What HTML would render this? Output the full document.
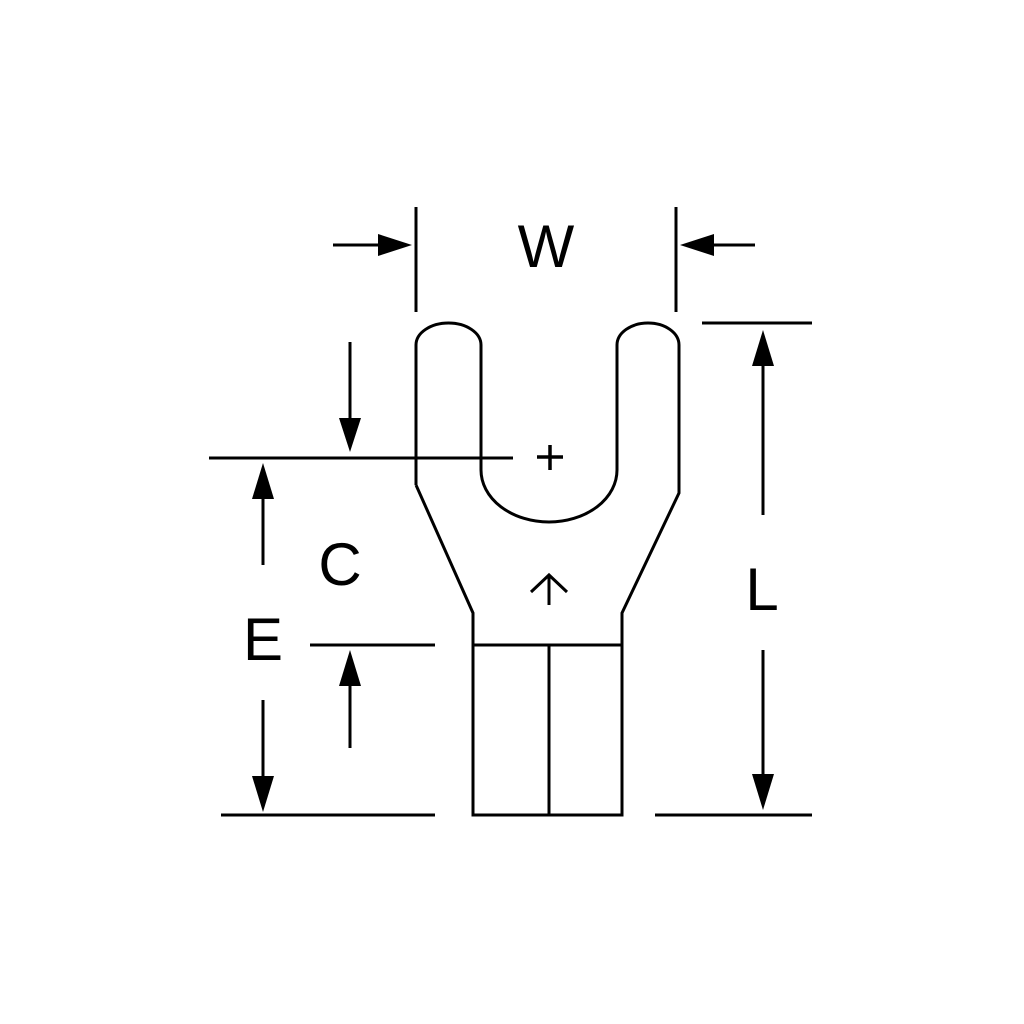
<!DOCTYPE html>
<html><head><style>html,body{margin:0;padding:0;background:#fff}svg{display:block}</style></head>
<body>
<svg width="1024" height="1024" viewBox="0 0 1024 1024" xmlns="http://www.w3.org/2000/svg">
<rect width="1024" height="1024" fill="#fff"/>
<g fill="none" stroke="#000" stroke-width="3">
<path d="M416,485 L416,345 A32.5,22 0 0 1 481,345 L481,470 A68,52 0 0 0 617,470 L617,345 A31,22 0 0 1 679,345 L679,493 L622,613 L622,815 L473,815 L473,613 L416,485"/>
<line x1="473" y1="645" x2="622" y2="645"/>
<line x1="549" y1="645" x2="549" y2="815"/>
<line x1="209" y1="458" x2="513" y2="458"/>
<line x1="537" y1="457" x2="563" y2="457" stroke-width="3.5"/><line x1="550" y1="445" x2="550" y2="470" stroke-width="3.5"/>
<line x1="549" y1="576" x2="549" y2="605"/><polyline points="531,592 549,575 567,592"/>
<line x1="416" y1="207" x2="416" y2="312"/>
<line x1="676" y1="207" x2="676" y2="312"/>
<line x1="333" y1="245" x2="385" y2="245"/>
<line x1="706" y1="245" x2="755" y2="245"/>
<line x1="702" y1="323" x2="812" y2="323"/>
<line x1="655" y1="815" x2="812" y2="815"/>
<line x1="763" y1="360" x2="763" y2="515"/>
<line x1="763" y1="650" x2="763" y2="780"/>
<line x1="350" y1="342" x2="350" y2="425"/>
<line x1="263" y1="495" x2="263" y2="565"/>
<line x1="263" y1="700" x2="263" y2="780"/>
<line x1="221" y1="815" x2="435" y2="815"/>
<line x1="310" y1="645" x2="435" y2="645"/>
<line x1="350" y1="680" x2="350" y2="748"/>
</g>
<g fill="#000">
<polygon points="412,245 378,234 378,256"/>
<polygon points="680,245 714,234 714,256"/>
<polygon points="763,330 752,366 774,366"/>
<polygon points="763,810 752,774 774,774"/>
<polygon points="350,452 339,418 361,418"/>
<polygon points="263,463 252,499 274,499"/>
<polygon points="263,812 252,776 274,776"/>
<polygon points="350,650 339,686 361,686"/>
</g>
<g font-family="Liberation Sans, sans-serif" font-size="60" text-anchor="middle" fill="#000">
<text x="546" y="267">W</text>
<text x="762" y="610">L</text>
<text x="340" y="585">C</text>
<text x="263" y="660">E</text>
</g>
</svg>
</body></html>
